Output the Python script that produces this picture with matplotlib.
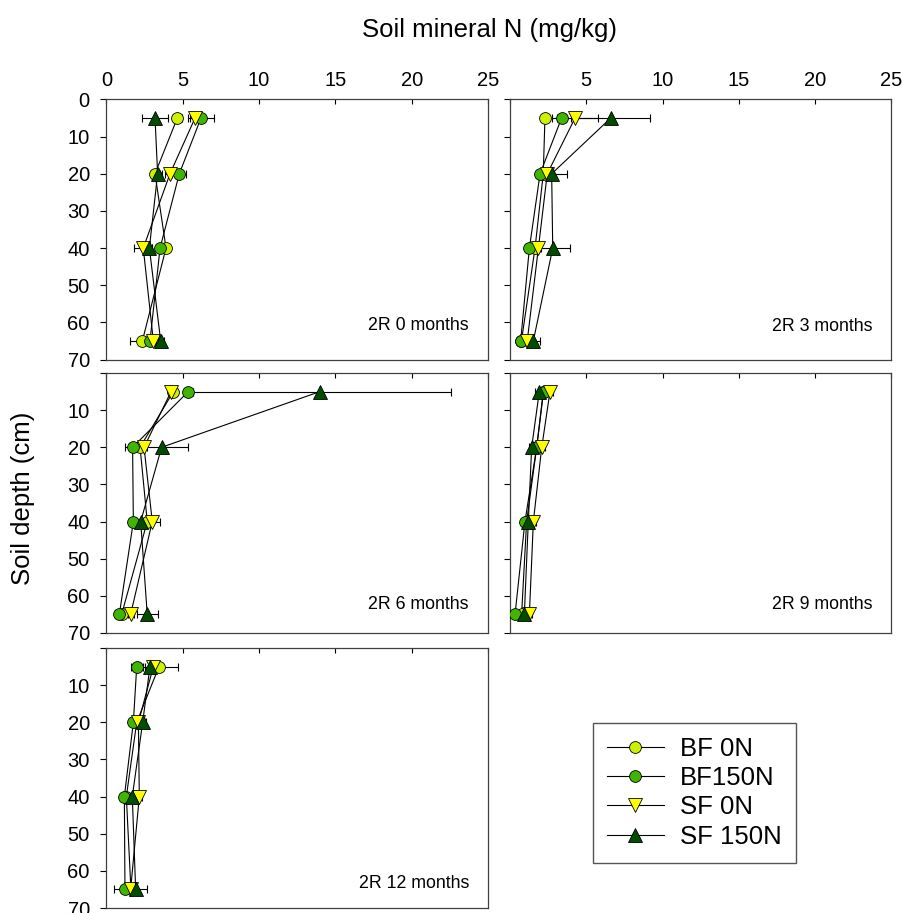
import numpy as np
import matplotlib
matplotlib.use('Agg')
import matplotlib.pyplot as plt

plt.rcParams['font.family'] = ['Liberation Sans', 'DejaVu Sans']

# depths (cm) and panels
depths = [5, 20, 40, 65]
panel_labels = ['2R 0 months', '2R 3 months', '2R 6 months', '2R 9 months', '2R 12 months']
series_names = ['BF 0N', 'BF150N', 'SF 0N', 'SF 150N']

# soil mineral N (mg/kg), one row per panel
bf0n = [[4.64, 3.18, 3.90, 2.35],
        [2.29, 2.18, 1.64, 0.75],
        [4.38, 2.20, 2.67, 0.99],
        [2.18, 1.75, 1.09, 0.76],
        [3.44, 1.98, 1.30, 1.60]]
bf150n = [[6.19, 4.77, 3.51, 2.85],
          [3.38, 1.97, 1.27, 0.70],
          [5.36, 1.71, 1.76, 0.84],
          [2.20, 1.75, 0.98, 0.33],
          [1.98, 1.76, 1.17, 1.21]]
sf0n = [[5.80, 4.16, 2.41, 3.07],
        [4.26, 2.44, 1.86, 1.13],
        [4.23, 2.46, 3.00, 1.58],
        [2.62, 2.08, 1.53, 1.27],
        [3.07, 2.09, 2.15, 1.58]]
sf150n = [[3.18, 3.35, 2.81, 3.55],
          [6.60, 2.73, 2.80, 1.53],
          [13.99, 3.61, 2.24, 2.67],
          [1.92, 1.42, 1.20, 0.94],
          [2.85, 2.37, 1.69, 1.91]]

# standard errors
bf0n_err = [[0.3, 0.2, 0.2, 0.8],
            [0.2, 0.2, 0.2, 0.2],
            [0.2, 0.2, 0.2, 0.2],
            [0.2, 0.2, 0.2, 0.2],
            [1.27, 0.2, 0.2, 0.2]]
bf150n_err = [[0.86, 0.45, 0.2, 0.2],
              [0.3, 0.2, 0.2, 0.2],
              [0.3, 0.5, 0.2, 0.3],
              [0.2, 0.2, 0.2, 0.2],
              [0.4, 0.2, 0.2, 0.72]]
sf0n_err = [[0.3, 0.3, 0.6, 0.2],
            [1.5, 0.2, 0.2, 0.2],
            [0.2, 0.2, 0.5, 0.2],
            [0.2, 0.2, 0.2, 0.2],
            [0.2, 0.2, 0.2, 0.2]]
sf150n_err = [[0.85, 0.3, 0.2, 0.2],
              [2.6, 1.0, 1.1, 0.45],
              [8.6, 1.75, 0.3, 0.7],
              [0.3, 0.2, 0.2, 0.2],
              [0.3, 0.2, 0.2, 0.72]]

values = [bf0n, bf150n, sf0n, sf150n]
errors = [bf0n_err, bf150n_err, sf0n_err, sf150n_err]
colors = ['#ccf200', '#3fb500', '#ffff00', '#004d00']
markers = ['o', 'o', 'v', '^']
msizes = [8.5, 8.5, 9.5, 9.5]

fig = plt.figure(figsize=(9.03, 9.13), dpi=100)
W, H = 903.0, 913.0
col_left = [106.5, 510.0]
row_top = [99.5, 373.0, 648.0]
pw, ph = 381.5, 260.0
text_y = [0.10, 0.096, 0.077, 0.077, 0.063]

for p in range(5):
    r, c = p // 2, p % 2
    ax = fig.add_axes([col_left[c] / W, 1 - (row_top[r] + ph) / H, pw / W, ph / H])
    handles = []
    for s in range(4):
        ax.errorbar(values[s][p], depths, xerr=errors[s][p], fmt='none',
                    ecolor='black', elinewidth=0.8, capsize=3.2, capthick=0.8, zorder=2)
        h, = ax.plot(values[s][p], depths, color='black', lw=0.8,
                     marker=markers[s], ms=msizes[s], mfc=colors[s],
                     mec='black', mew=0.6, zorder=3 + s, label=series_names[s])
        handles.append(h)
    ax.set_xlim(0, 25)
    ax.set_ylim(70, 0)
    ax.set_xticks([0, 5, 10, 15, 20, 25])
    ax.set_yticks(np.arange(0, 71, 10))
    ax.tick_params(axis='x', direction='in', length=3.5, width=0.8, top=True, bottom=False,
                   labeltop=(r == 0), labelbottom=False, labelsize=14.5, pad=7, colors='black')
    ax.tick_params(axis='y', direction='out', length=4, width=0.8, left=True, right=False,
                   labelleft=(c == 0), labelsize=14.5, pad=8)
    if r == 0 and c == 1:
        ax.set_xticklabels(['', '5', '10', '15', '20', '25'])
    if r > 0 and c == 0:
        ax.set_yticklabels([''] + [str(v) for v in range(10, 71, 10)])
    for sp in ax.spines.values():
        sp.set_color('#404040')
        sp.set_linewidth(0.9)
    ax.text(0.95, text_y[p], panel_labels[p], transform=ax.transAxes,
            ha='right', va='bottom', fontsize=12.8)

fig.legend(handles, series_names, loc='upper left',
           bbox_to_anchor=(593 / W, 1 - 723 / H), fontsize=18.5,
           frameon=True, fancybox=False, edgecolor='#555555', framealpha=1,
           handlelength=2.2, handletextpad=0.65, labelspacing=0.2,
           borderpad=0.55, borderaxespad=0)

fig.text(490 / W, 1 - 36.7 / H, 'Soil mineral N (mg/kg)', ha='center', va='baseline', fontsize=18.5)
fig.text(23 / W, 1 - 498.5 / H, 'Soil depth (cm)', rotation=90, ha='center', va='center', fontsize=18.5)

fig.savefig('out.png', dpi=100)
